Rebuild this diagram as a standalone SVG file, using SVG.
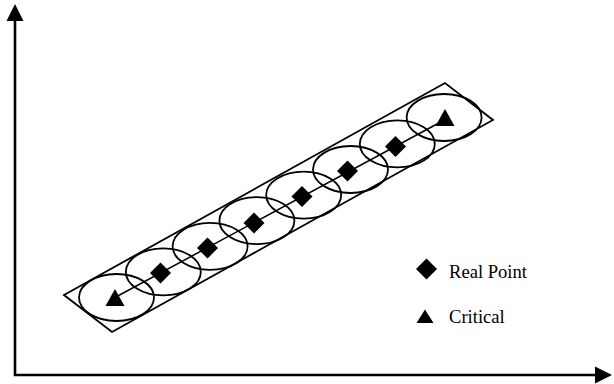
<svg xmlns="http://www.w3.org/2000/svg" width="614" height="384" viewBox="0 0 614 384">
  <style>
    .axis { stroke: #000; stroke-width: 2.6; fill: none; }
    .band { stroke: #000; stroke-width: 1.8; fill: none; }
    .zone { stroke: #000; stroke-width: 1.8; fill: none; }
    .track { stroke: #000; stroke-width: 1.5; fill: none; }
    .mark { fill: #000; stroke: none; }
    .label { font-family: "Liberation Serif", "Times New Roman", serif; font-size: 18.6px; fill: #000; }
  </style>
  <defs>
    <path id="diamond" d="M0,-10.5 L10.5,0 L0,10.5 L-10.5,0 Z"/>
    <path id="tri" d="M0,-9 L9.5,8 L-9.5,8 Z"/>
    <ellipse id="zone" class="zone" cx="0" cy="0" rx="37.5" ry="23.5"/>
  </defs>
  <rect width="614" height="384" fill="#fff"/>

  <!-- axes -->
  <g id="axes">
    <path class="axis" d="M15,20 L15,375 L597,375"/>
    <path class="mark" d="M15,4 L23.5,21 L6.5,21 Z"/>
    <path class="mark" d="M612,375 L595,366.5 L595,383.5 Z"/>
  </g>

  <!-- bounding band -->
  <g id="band">
    <path class="band" d="M64,295 L445,83 L493,120 L112,332 Z"/>
  </g>

  <!-- coverage ellipses -->
  <g id="zones">
    <use href="#zone" x="116.5" y="297.5"/>
    <use href="#zone" x="163.3" y="271.9"/>
    <use href="#zone" x="210.1" y="246.3"/>
    <use href="#zone" x="256.9" y="220.7"/>
    <use href="#zone" x="303.7" y="195.1"/>
    <use href="#zone" x="350.5" y="169.5"/>
    <use href="#zone" x="397.3" y="143.9"/>
    <use href="#zone" x="444.1" y="117.5"/>
  </g>

  <!-- connectors -->
  <g id="connectors">
    <path class="track" d="M114,298 L444.4,120"/>
  </g>

  <!-- points -->
  <g id="point-0"><use href="#tri" x="115" y="298"/></g>
  <g id="point-1"><use href="#diamond" x="160.5" y="273"/></g>
  <g id="point-2"><use href="#diamond" x="207.5" y="248"/></g>
  <g id="point-3"><use href="#diamond" x="254" y="223"/></g>
  <g id="point-4"><use href="#diamond" x="302" y="196.5"/></g>
  <g id="point-5"><use href="#diamond" x="347.5" y="171"/></g>
  <g id="point-6"><use href="#diamond" x="395.5" y="146.5"/></g>
  <g id="point-7"><use href="#tri" x="445" y="118"/></g>

  <!-- legend -->
  <g id="legend-real">
    <use href="#diamond" x="426.5" y="269"/>
    <text class="label" x="449" y="278">Real Point</text>
  </g>
  <g id="legend-critical">
    <path class="mark" d="M425,309.5 L433.5,323 L416.5,323 Z"/>
    <text class="label" x="449" y="323">Critical</text>
  </g>
</svg>
